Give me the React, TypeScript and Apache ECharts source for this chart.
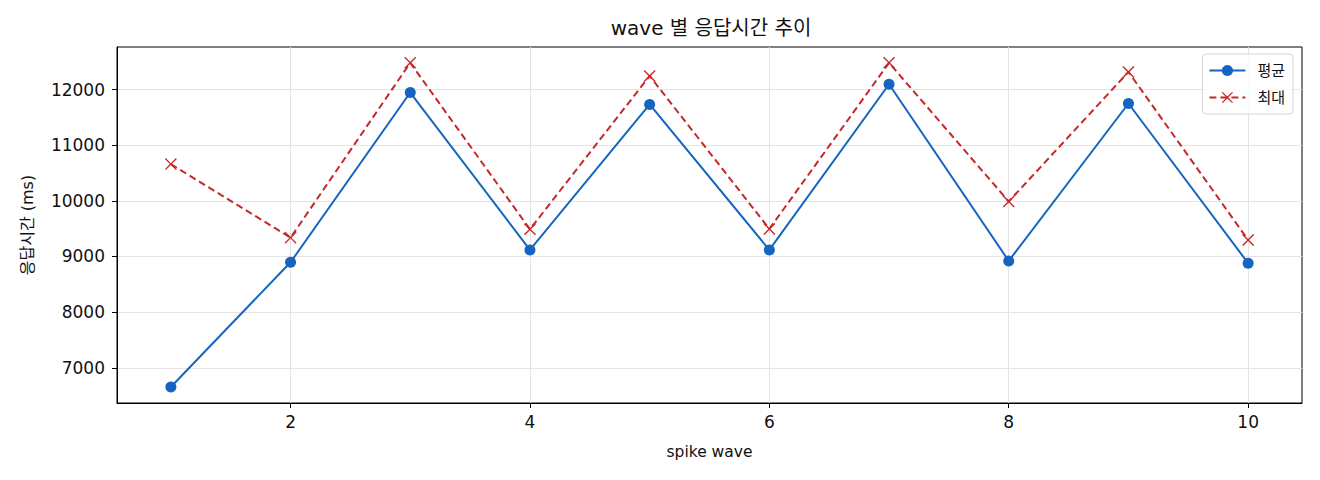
import { useEffect, useRef } from 'react'
import * as echarts from 'echarts'

const waves = [1, 2, 3, 4, 5, 6, 7, 8, 9, 10]
const avgMs = [6655, 8896, 11946, 9118, 11731, 9118, 12095, 8920, 11749, 8879]
const maxMs = [10660, 9338, 12480, 9489, 12244, 9495, 12480, 9988, 12316, 9297]
const xTicks = [2, 4, 6, 8, 10]
const yTicks = [7000, 8000, 9000, 10000, 11000, 12000]

const FONT = '"DejaVu Sans", "Noto Sans CJK KR", sans-serif'
const BLUE = '#1565c0'
const RED = '#c62828'

// filled X shape (matplotlib 'x' marker)
const X_MARK =
  'path://M0.8,0L5,4.2L9.2,0L10,0.8L5.8,5L10,9.2L9.2,10L5,5.8L0.8,10L0,9.2L4.2,5L0,0.8Z'

const App: React.FC = () => {
  const chartRef = useRef<HTMLDivElement | null>(null)

  useEffect(() => {
    if (!chartRef.current) return
    document.body.style.margin = '0'
    const chart = echarts.init(chartRef.current, null, { renderer: 'svg' })

    const gridLine = { show: true, lineStyle: { color: '#e4e4e4', width: 1 } }
    const tickLabel = { fontFamily: FONT, fontSize: 17, color: '#111' }

    const option: echarts.EChartsOption = {
      animation: false,
      backgroundColor: '#ffffff',
      textStyle: { fontFamily: FONT },
      title: {
        text: 'wave 별 응답시간 추이',
        left: 706,
        top: 13,
        textAlign: 'center',
        textStyle: { fontFamily: FONT, fontSize: 20, fontWeight: 'normal', color: '#111' },
      },
      grid: {
        left: 117,
        right: 18,
        top: 47,
        bottom: 77,
        show: true,
        borderColor: '#000',
        borderWidth: 1,
        backgroundColor: 'transparent',
      },
      legend: {
        orient: 'vertical',
        right: 27,
        top: 54,
        padding: [9, 8, 9, 6],
        itemWidth: 36,
        itemHeight: 14,
        itemGap: 12,
        borderColor: '#d6d6d6',
        borderWidth: 1,
        borderRadius: 4,
        backgroundColor: 'rgba(255,255,255,0.85)',
        textStyle: { fontFamily: FONT, fontSize: 15, color: '#111', padding: [0, 0, 0, 7] },
        data: ['평균', '최대'],
      },
      xAxis: {
        type: 'value',
        min: 0.55,
        max: 10.45,
        name: 'spike wave',
        nameLocation: 'middle',
        nameGap: 41,
        nameTextStyle: { fontFamily: FONT, fontSize: 15.5, color: '#111' },
        axisLine: { show: true, onZero: false, lineStyle: { color: '#000', width: 1 } },
        axisTick: { show: true, length: 5, customValues: xTicks, lineStyle: { color: '#000' } },
        axisLabel: { ...tickLabel, customValues: xTicks, margin: 10 },
        splitLine: gridLine,
      },
      yAxis: {
        type: 'value',
        min: 6367,
        max: 12764,
        name: '응답시간 (ms)',
        nameLocation: 'middle',
        nameGap: 82,
        nameTextStyle: { fontFamily: FONT, fontSize: 16, color: '#111' },
        axisLine: { show: true, lineStyle: { color: '#000', width: 1 } },
        axisTick: { show: true, length: 5, customValues: yTicks, lineStyle: { color: '#000' } },
        axisLabel: {
          ...tickLabel,
          customValues: yTicks,
          margin: 12,
          formatter: (v: number) => String(v),
        },
        splitLine: gridLine,
      },
      series: [
        {
          name: '평균',
          type: 'line',
          data: waves.map((w, i) => [w, avgMs[i]]),
          symbol: 'circle',
          symbolSize: 11,
          itemStyle: { color: BLUE },
          lineStyle: { color: BLUE, width: 2 },
          z: 3,
        },
        {
          name: '최대',
          type: 'line',
          data: waves.map((w, i) => [w, maxMs[i]]),
          symbol: X_MARK,
          symbolSize: 12,
          itemStyle: { color: RED },
          lineStyle: { color: RED, width: 2, type: [7, 4] },
          z: 2,
        },
      ],
    }

    chart.setOption(option)
    return () => chart.dispose()
  }, [])

  return <div ref={chartRef} style={{ width: 1320, height: 480 }} />
}

export default App
